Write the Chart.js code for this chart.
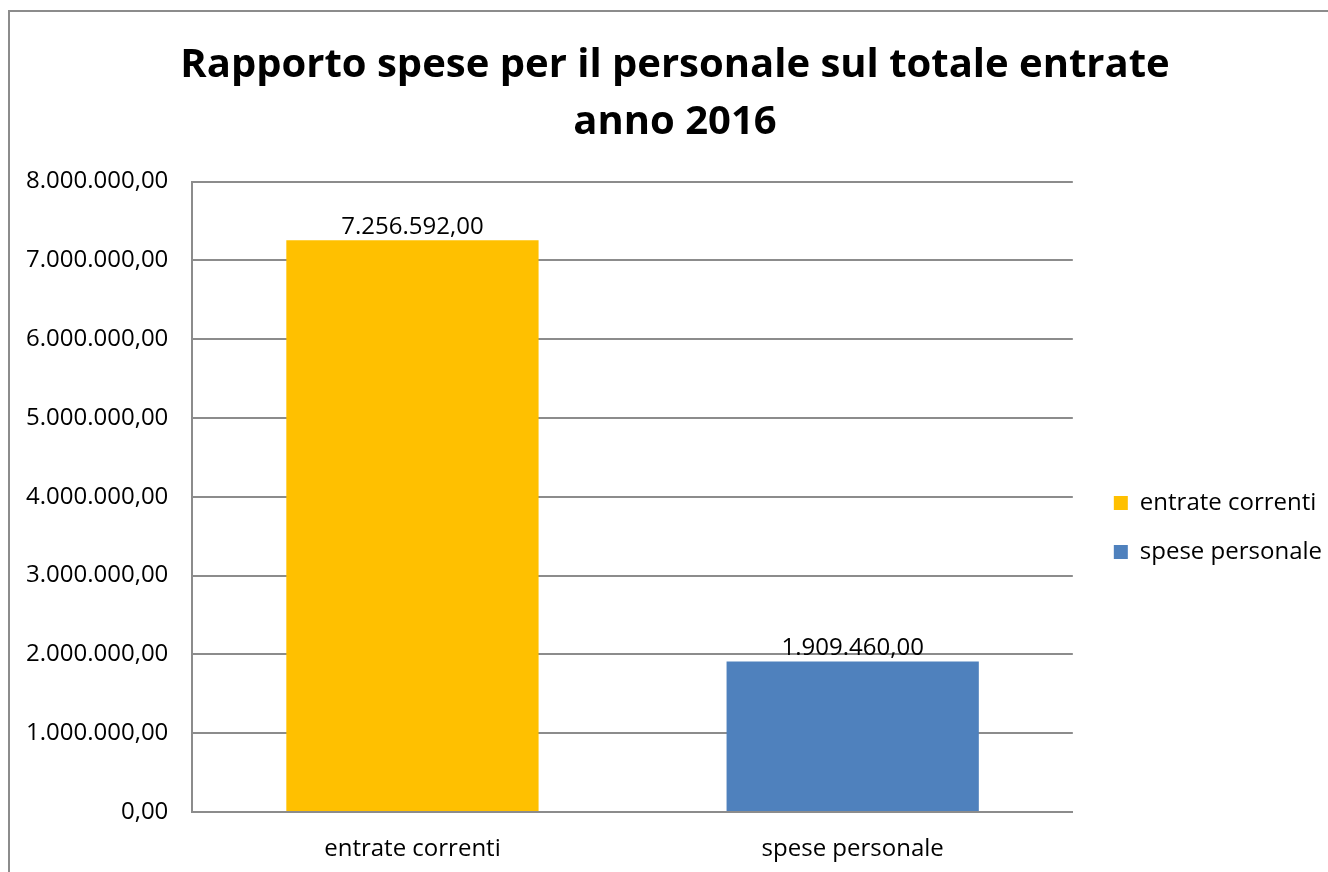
<!DOCTYPE html>
<html>
<head>
<meta charset="utf-8">
<script src="https://cdn.jsdelivr.net/npm/chart.js@4.4.1/dist/chart.umd.min.js"></script>
<style>
html,body{margin:0;padding:0;background:#fff;overflow:hidden;width:1328px;height:872px;}
#wrap{position:absolute;left:0;top:0;width:1328px;height:872px;overflow:hidden;}
#frame{position:absolute;left:8px;top:10px;width:1400px;height:900px;border-left:2px solid #8c8c8c;border-top:2px solid #8c8c8c;}
canvas{position:absolute;left:0;top:0;}
</style>
</head>
<body>
<div id="wrap">
<div id="frame"></div>
<canvas id="c" width="1328" height="872"></canvas>
</div>
<script>
const categories = ["entrate correnti", "spese personale"];
const seriesNames = ["entrate correnti", "spese personale"];
const entrateCorrenti = [7256592, null];
const spesePersonale = [null, 1909460];
const colors = ["#FFC000", "#4F81BD"];
const titleLines = ["Rapporto spese per il personale sul totale entrate", "anno 2016"];

const fmt = v => v.toLocaleString('de-DE', {minimumFractionDigits: 2, maximumFractionDigits: 2});
const FONT = "'Open Sans', sans-serif";

const labelPlugin = {
  id: 'valueLabels',
  afterDatasetsDraw(chart) {
    const ctx = chart.ctx;
    ctx.save();
    ctx.font = "24px " + FONT;
    ctx.fillStyle = "#000";
    ctx.textAlign = "center";
    ctx.textBaseline = "bottom";
    chart.data.datasets.forEach((ds, i) => {
      const meta = chart.getDatasetMeta(i);
      meta.data.forEach((bar, j) => {
        const v = ds.data[j];
        if (v == null) return;
        ctx.fillText(fmt(v), bar.x, bar.y - 1);
      });
    });
    ctx.restore();
  }
};

// nudge title to be centered on the whole frame and legend a bit to the right
const layoutNudge = {
  id: 'layoutNudge',
  afterLayout(chart) {
    const t = chart.titleBlock;
    if (t) { t.left += 32; }
    const l = chart.legend;
    if (l) { l.left += 16; l.right += 16; }
  }
};

new Chart(document.getElementById('c'), {
  type: 'bar',
  data: {
    labels: categories,
    datasets: [
      {label: seriesNames[0], data: entrateCorrenti, backgroundColor: colors[0]},
      {label: seriesNames[1], data: spesePersonale, backgroundColor: colors[1]}
    ]
  },
  options: {
    responsive: false,
    animation: false,
    devicePixelRatio: 1,
    skipNull: true,
    categoryPercentage: 1,
    barPercentage: 0.573,
    layout: {padding: {left: 2, right: 12, top: 37, bottom: -14}},
    plugins: {
      title: {
        display: true,
        text: titleLines,
        color: "#000",
        font: {family: FONT, size: 40, weight: 'bold', lineHeight: 1.42},
        padding: {top: 0, bottom: 31}
      },
      legend: {
        position: 'right',
        title: {display: true, text: ' ', font: {size: 60}, padding: 30},
        labels: {
          boxWidth: 14, boxHeight: 14, padding: 25,
          color: "#000",
          font: {family: FONT, size: 24}
        }
      },
      tooltip: {enabled: false}
    },
    scales: {
      x: {
        grid: {display: false, drawTicks: false},
        border: {color: "#8c8c8c", width: 2},
        ticks: {color: "#000", font: {family: FONT, size: 24, lineHeight: 0.5}, padding: 31}
      },
      y: {
        min: 0, max: 8000000,
        ticks: {stepSize: 1000000, color: "#000", font: {family: FONT, size: 24}, padding: 24, callback: v => fmt(v)},
        grid: {color: "#8c8c8c", lineWidth: 2, drawTicks: false},
        border: {color: "#8c8c8c", width: 2}
      }
    }
  },
  plugins: [labelPlugin, layoutNudge]
});
</script>
</body>
</html>
